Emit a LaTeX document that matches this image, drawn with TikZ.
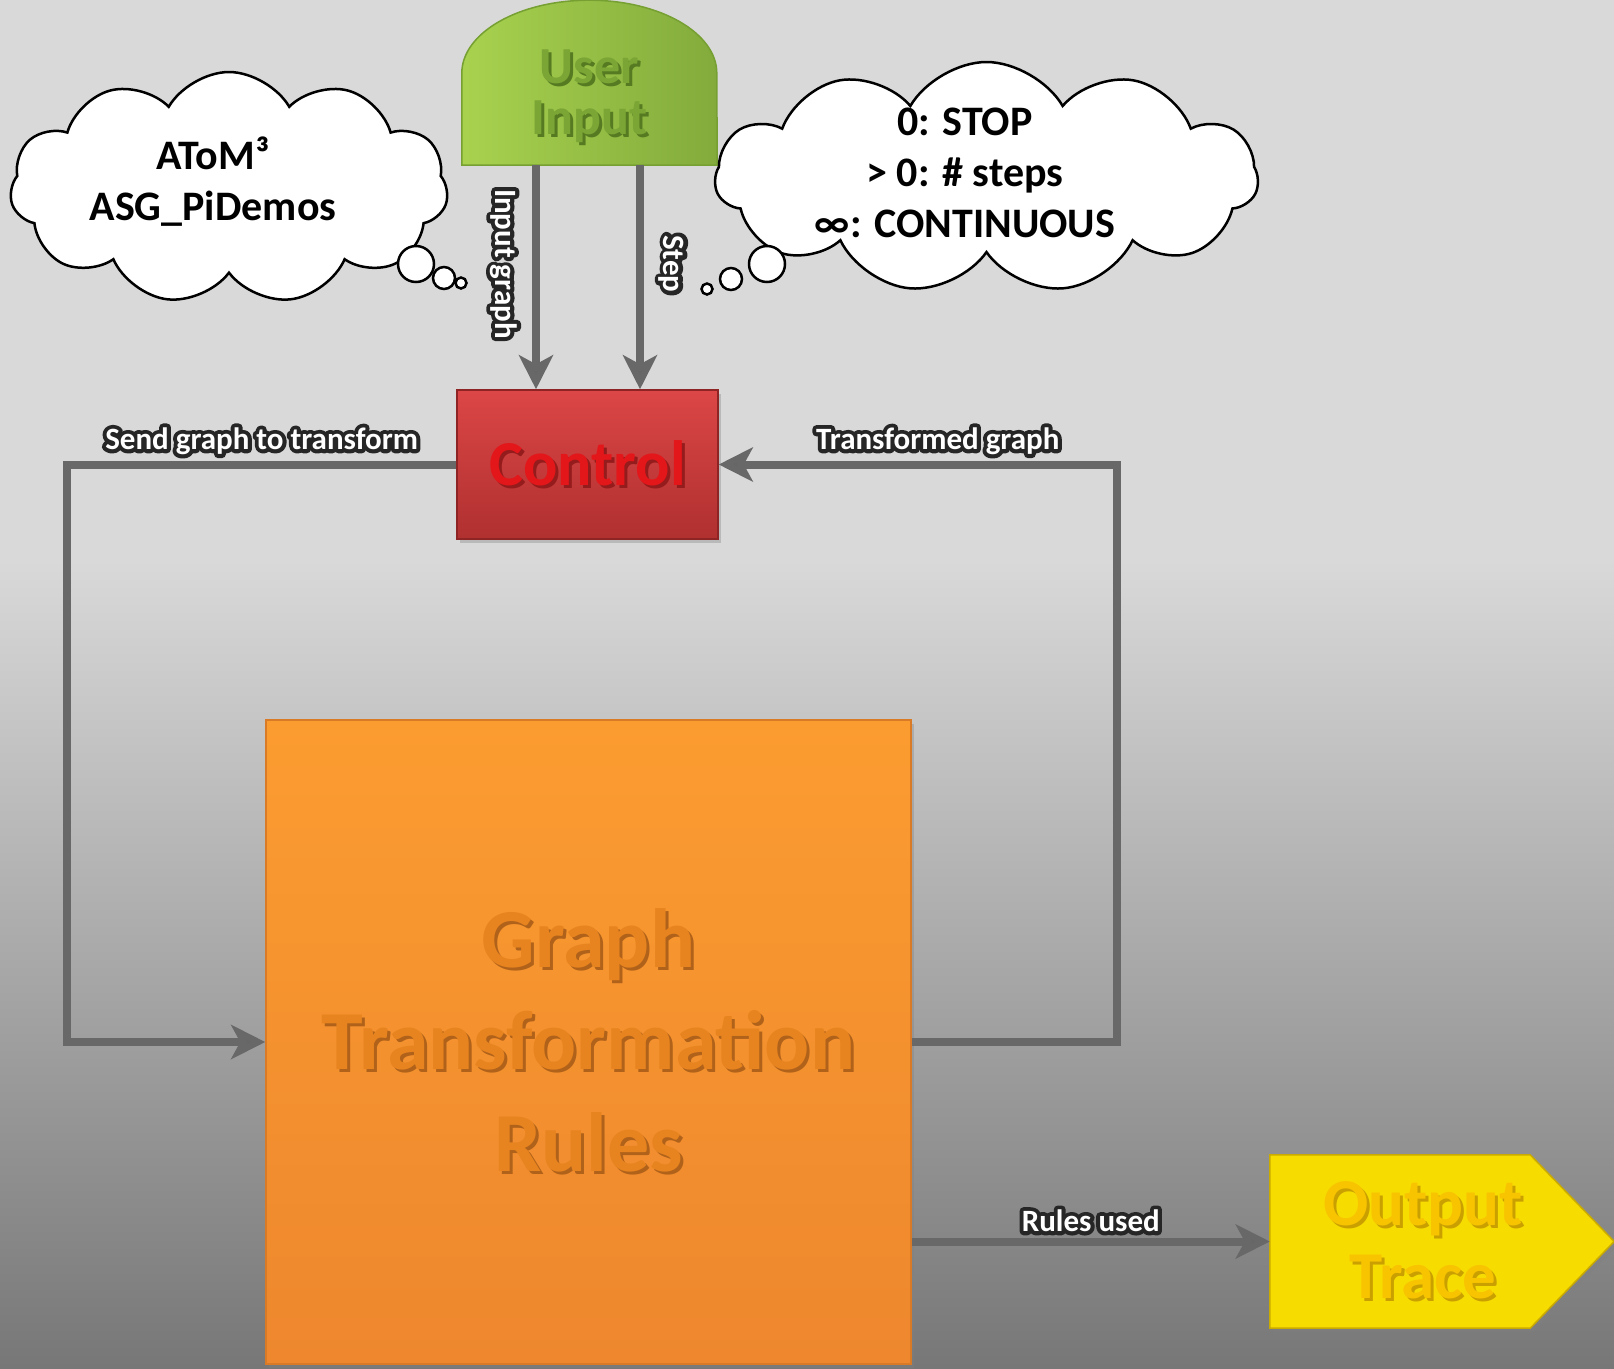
\documentclass[tikz,border=0pt]{standalone}
\usepackage{fontspec}
\setmainfont{Carlito}
\usepackage{tikz}
\usetikzlibrary{arrows.meta}
\usetikzlibrary{shapes.symbols}
\usetikzlibrary{shadows}
\usetikzlibrary{calc}

\definecolor{bgtop}{HTML}{D9D9D9}
\definecolor{bgbot}{HTML}{777777}
\definecolor{uiL}{HTML}{A8D24E}
\definecolor{uiR}{HTML}{82AB3C}
\definecolor{uiEdge}{HTML}{76A032}
\definecolor{uiText}{HTML}{7BA534}
\definecolor{uiShade}{HTML}{557A22}
\definecolor{ctrlTop}{HTML}{DC4646}
\definecolor{ctrlBot}{HTML}{B03030}
\definecolor{ctrlEdge}{HTML}{8E2424}
\definecolor{ctrlText}{HTML}{E3161A}
\definecolor{ctrlShade}{HTML}{951C1C}
\definecolor{gtrTop}{HTML}{FB9C30}
\definecolor{gtrBot}{HTML}{EE872E}
\definecolor{gtrEdge}{HTML}{D97A26}
\definecolor{gtrText}{HTML}{E8841F}
\definecolor{gtrShade}{HTML}{B0621A}
\definecolor{outFill}{HTML}{F7DC00}
\definecolor{outEdge}{HTML}{C9AA00}
\definecolor{outText}{HTML}{F8C400}
\definecolor{outShade}{HTML}{C9A000}
\definecolor{flowGray}{HTML}{686868}

% text with a small offset shadow behind it
\newcommand{\shd}[2]{\makebox[0pt][l]{\hspace{3pt}\raisebox{-3pt}{\color{#1}#2}}#2}
% white text with a dark stroked outline behind it
\newcommand{\halo}[1]{\leavevmode\rlap{\special{pdf:literal direct q 1 Tr 8 w 1 j 0.15 G}#1\special{pdf:literal direct Q}}#1}

\begin{document}
\begin{tikzpicture}[x=1pt,y=-1pt]
\tikzstyle{box}=[draw, line width=1.5pt, align=center, font=\bfseries,
    drop shadow={opacity=0.35, shadow xshift=3pt, shadow yshift=-4pt}]
\tikzstyle{flow}=[draw=flowGray, line width=8pt,
    -{Stealth[length=34pt,width=34pt,inset=9pt,fill=black!60]}]
\tikzstyle{tag}=[font=\fontsize{31}{31}\selectfont\bfseries, text=white, inner sep=2pt]
\tikzstyle{thought}=[cloud, cloud puffs=11, cloud puff arc=120, aspect=1.9,
    draw=black, fill=white, line width=2.5pt]
\tikzstyle{thoughttext}=[align=center, font=\fontsize{42}{51}\selectfont\bfseries]
\tikzstyle{bubble}=[circle, draw=black, fill=white, line width=2.5pt, inner sep=0pt]

% background
\fill[bgtop] (0,0) rectangle (1614,560);
\shade[top color=bgtop, bottom color=bgbot] (0,559) rectangle (1614,1368);
\useasboundingbox (0,0) rectangle (1614,1368);

% user input (dome on top)
\node[minimum width=255pt, minimum height=165pt, inner sep=0pt] (user) at (589.5,82.5) {};
\fill[left color=uiL, right color=uiR, draw=uiEdge, line width=1.5pt]
    (user.south west) -- ++(0,-92)
    arc[start angle=180, end angle=0, x radius=127.5pt, y radius=73pt]
    -- (user.south east) -- cycle;
\node[align=center, text=uiText, font=\fontsize{52}{51}\selectfont\bfseries]
    (usertxt) at (589.5,98) {\shd{uiShade}{User}\\\shd{uiShade}{Input}};

\node[box, draw=ctrlEdge, top color=ctrlTop, bottom color=ctrlBot,
    minimum width=261pt, minimum height=149pt, text=ctrlText,
    font=\fontsize{64}{64}\selectfont\bfseries] (ctrl) at (587.5,464.5) {\shd{ctrlShade}{Control}};

\node[box, draw=gtrEdge, top color=gtrTop, bottom color=gtrBot,
    minimum width=645pt, minimum height=644pt, text=gtrText,
    font=\fontsize{84}{102}\selectfont\bfseries] (gtr) at (588.5,1042)
    {\shd{gtrShade}{Graph}\\\shd{gtrShade}{Transformation}\\\shd{gtrShade}{Rules}};

% output trace (pointed to the right)
\node[minimum width=344pt, minimum height=173pt, inner sep=0pt] (out) at (1442,1241.5) {};
\fill[outFill, draw=outEdge, line width=1.5pt,
    drop shadow={opacity=0.35, shadow xshift=3pt, shadow yshift=-4pt}]
    (out.north west) -- ([xshift=-84pt]out.north east) -- (out.east)
    -- ([xshift=-84pt]out.south east) -- (out.south west) -- cycle;
\node[align=center, text=outText, font=\fontsize{67}{73}\selectfont\bfseries]
    (outtxt) at (1423,1241.5) {\shd{outShade}{Output}\\\shd{outShade}{Trace}};

% thought clouds
\node[thought, minimum width=438pt, minimum height=232pt] (atom) at (229,188) {};
\node[thoughttext] (atomtxt) at (213,182) {AToM³\\ASG\_PiDemos};
\node[thought, minimum width=543pt, minimum height=231pt] (steps) at (986.5,177.5) {};
\node[thoughttext] (stepstxt) at (965,173) {0: STOP\\> 0: \# steps\\∞: CONTINUOUS};
\foreach \name/\x/\y/\d in {l1/416/264/36, l2/444/278/22, l3/461/283/11,
                            r1/767/264/36, r2/731/279/22, r3/707/289/11}
    \node[bubble, minimum size=\d pt] (b\name) at (\x,\y) {};

% connectors
\coordinate (lft) at (67,0);
\coordinate (rgt) at (1117,0);
\draw[flow] ([xshift=-53.5pt]user.south) -- node[tag, rotate=-90, anchor=north, inner sep=15pt, pos=0.44]
    {\halo{Input graph}} ([xshift=-53.5pt]user.south |- ctrl.north);
\draw[flow] ([xshift=50.5pt]user.south) -- node[tag, rotate=-90, anchor=south, inner sep=15pt, pos=0.44]
    {\halo{Step}} ([xshift=50.5pt]user.south |- ctrl.north);
\draw[flow] (ctrl.west) -- node[tag, above=4pt] {\halo{Send graph to transform}}
    (ctrl.west -| lft) |- (gtr.west);
\draw[flow] (gtr.east) -| (rgt |- ctrl.east) -- node[tag, above=4pt, pos=0.45]
    {\halo{Transformed graph}} (ctrl.east);
\draw[flow] (gtr.east |- out.west) -- node[tag, above=4pt] {\halo{Rules used}} (out.west);
\end{tikzpicture}
\end{document}
